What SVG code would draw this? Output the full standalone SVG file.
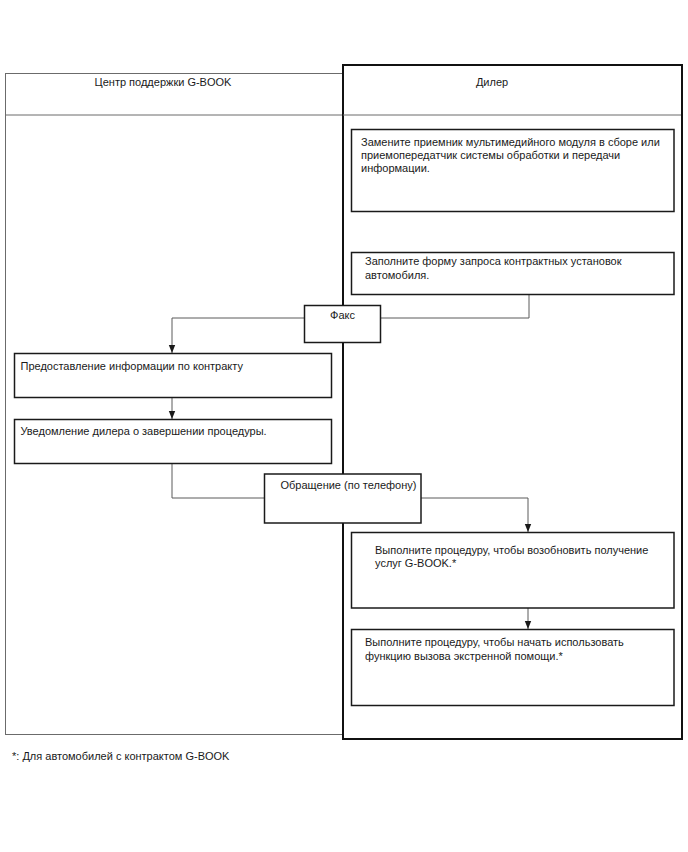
<svg xmlns="http://www.w3.org/2000/svg" width="688" height="852" viewBox="0 0 688 852">
<style>
  text { font-family: "Liberation Sans", Arial, sans-serif; font-size: 11px; fill: #1a1a1a; }
  .lane { fill: none; stroke: #6b6b6b; stroke-width: 1; }
  .dealer { fill: none; stroke: #111; stroke-width: 2; }
  .box { fill: #fff; stroke: #1a1a1a; stroke-width: 1.5; }
  .conn { fill: none; stroke: #5a5a5a; stroke-width: 1; }
  .mid { text-anchor: middle; }
</style>
<defs>
  <marker id="arr" viewBox="0 0 8 8" refX="8" refY="4" markerWidth="8" markerHeight="8" markerUnits="userSpaceOnUse" orient="auto">
    <path d="M0,0.8 L8,4 L0,7.2 Z" fill="#1a1a1a"/>
  </marker>
</defs>
<rect width="688" height="852" fill="#fff"/>

<g id="lane-support">
  <rect class="lane" x="5.5" y="73.5" width="337" height="661"/>
  <line class="lane" x1="5.5" y1="115" x2="343" y2="115"/>
  <text class="mid" x="163" y="86">Центр поддержки G-BOOK</text>
</g>
<g id="lane-dealer">
  <rect class="dealer" x="343" y="65" width="339" height="674"/>
  <line class="lane" x1="343" y1="115" x2="681" y2="115"/>
  <text class="mid" x="492" y="86">Дилер</text>
</g>

<g id="connectors">
  <polyline class="conn" points="529,294 529,318 381,318"/>
  <polyline class="conn" points="304,318 172,318 172,353" marker-end="url(#arr)"/>
  <line class="conn" x1="172" y1="397" x2="172" y2="419" marker-end="url(#arr)"/>
  <polyline class="conn" points="172,463 172,498 264,498"/>
  <polyline class="conn" points="421,498 528,498 528,532" marker-end="url(#arr)"/>
  <line class="conn" x1="528" y1="608" x2="528" y2="629" marker-end="url(#arr)"/>
</g>

<g id="node-replace">
  <rect class="box" x="351.5" y="129.5" width="322.5" height="82"/>
  <text x="361" y="146">Замените приемник мультимедийного модуля в сборе или</text>
  <text x="361" y="159">приемопередатчик системы обработки и передачи</text>
  <text x="361" y="172">информации.</text>
</g>
<g id="node-form">
  <rect class="box" x="351.5" y="252.5" width="322.5" height="42"/>
  <text x="365" y="265">Заполните форму запроса контрактных установок</text>
  <text x="365" y="278.5">автомобиля.</text>
</g>
<g id="node-fax">
  <rect class="box" x="304.5" y="305.5" width="76" height="37"/>
  <text class="mid" x="342.5" y="319">Факс</text>
</g>
<g id="node-contract-info">
  <rect class="box" x="14.5" y="353.5" width="317" height="44"/>
  <text x="20.5" y="369.5">Предоставление информации по контракту</text>
</g>
<g id="node-notify">
  <rect class="box" x="14.5" y="419.5" width="317" height="44"/>
  <text x="20.5" y="435">Уведомление дилера о завершении процедуры.</text>
</g>
<g id="node-phone">
  <rect class="box" x="264.5" y="474" width="156.5" height="49"/>
  <text x="280.5" y="489">Обращение (по телефону)</text>
</g>
<g id="node-resume">
  <rect class="box" x="351.5" y="532.5" width="322.5" height="75.5"/>
  <text x="375" y="554">Выполните процедуру, чтобы возобновить получение</text>
  <text x="375" y="567">услуг G-BOOK.*</text>
</g>
<g id="node-emergency">
  <rect class="box" x="351.5" y="629.5" width="322.5" height="76"/>
  <text x="365" y="646">Выполните процедуру, чтобы начать использовать</text>
  <text x="365" y="659.5">функцию вызова экстренной помощи.*</text>
</g>

<text x="12" y="760">*: Для автомобилей с контрактом G-BOOK</text>
</svg>
